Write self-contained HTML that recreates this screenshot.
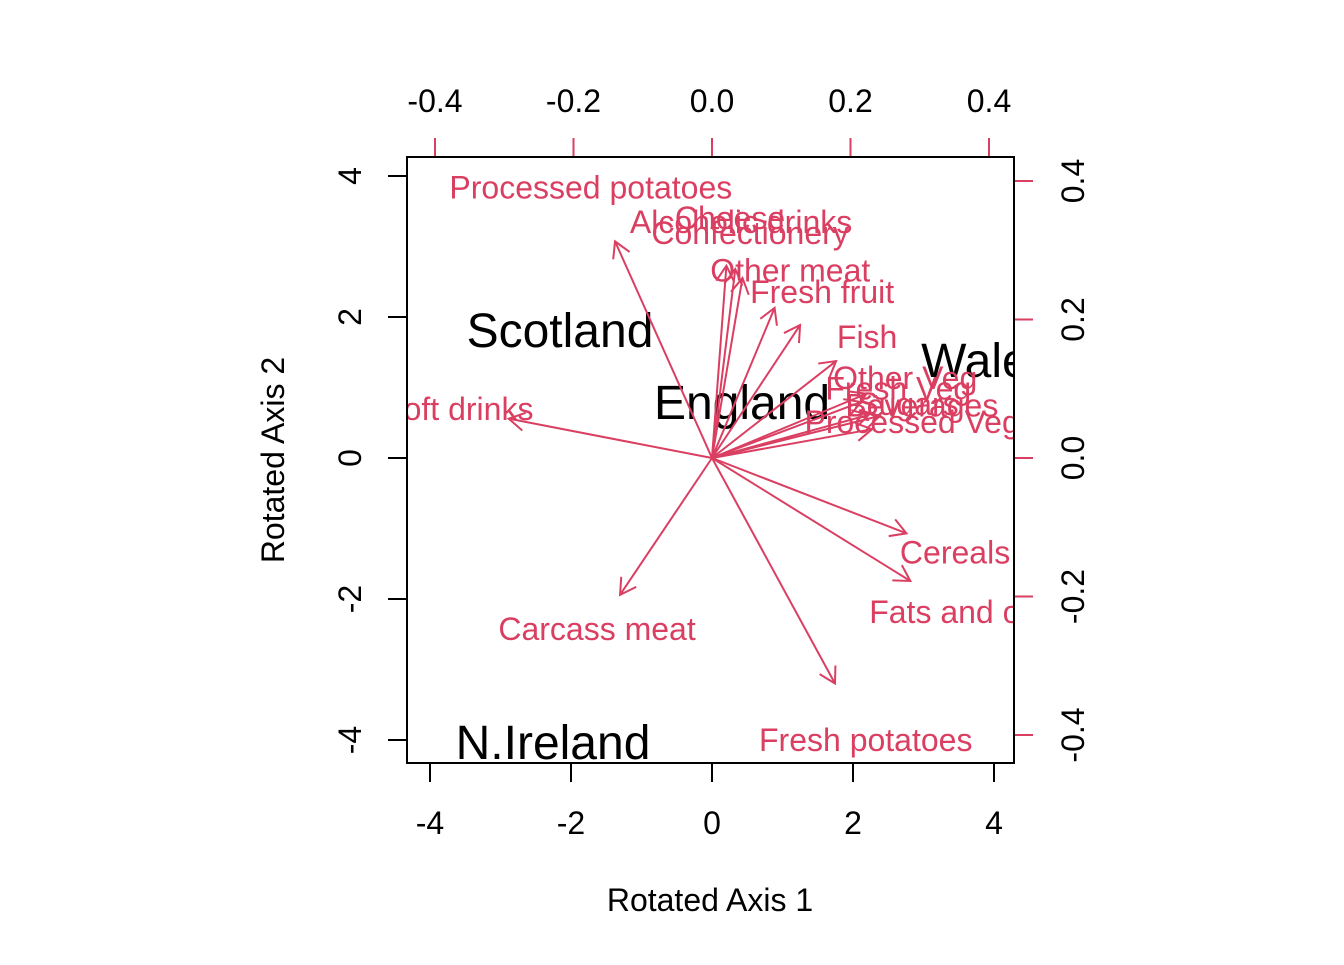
<!DOCTYPE html>
<html><head><meta charset="utf-8"><style>
body{margin:0;background:#fff}
svg text{font-family:"Liberation Sans",Arial,sans-serif}
</style></head><body>
<svg id="chart" width="1344" height="960" xmlns="http://www.w3.org/2000/svg">
<defs><clipPath id="clip"><rect x="407" y="157" width="607" height="606"/></clipPath></defs>
<g id="axes"></g>
<g id="marks" clip-path="url(#clip)"></g>
<rect x="407" y="157" width="607" height="606" fill="none" stroke="#000" stroke-width="2"/>
</svg>
<script>
const countries=["Scotland","England","Wales","N.Ireland"];
const scoreX=[-2.156,0.426,3.90,-2.255];
const scoreY=[1.816,0.794,1.39,-4.03];
const variables=["Processed potatoes","Alcoholic drinks","Cheese","Confectionery","Other meat","Fresh fruit","Fish","Other Veg","Fresh Veg","Sugars","Beverages","Processed Veg","Soft drinks","Cereals","Fats and oils","Carcass meat","Fresh potatoes"];
const loadX=[-0.175,0.042,0.026,0.055,0.113,0.159,0.224,0.279,0.269,0.283,0.303,0.289,-0.367,0.351,0.358,-0.166,0.222];
const loadY=[0.391,0.341,0.347,0.325,0.271,0.240,0.175,0.116,0.101,0.078,0.076,0.052,0.071,-0.136,-0.222,-0.247,-0.407];
const bottomTicks=[-4,-2,0,2,4];
const leftTicks=[-4,-2,0,2,4];
const topTicks=[-0.4,-0.2,0.0,0.2,0.4];
const rightTicks=[-0.4,-0.2,0.0,0.2,0.4];
const NS="http://www.w3.org/2000/svg";
const RED="#DA3F62";
const sx=v=>712+v*70.5, sy=v=>458-v*70.5;
const lx=v=>712+v*692.5, ly=v=>458-v*692.5;
const axes=document.getElementById('axes'), marks=document.getElementById('marks');
function mk(tag,attrs,parent,txt){const e=document.createElementNS(NS,tag);for(const k in attrs)e.setAttribute(k,attrs[k]);if(txt!==undefined)e.textContent=txt;parent.appendChild(e);return e;}
function fmt(v,d){return v.toFixed(d);}
mk('line',{x1:sx(-4),x2:sx(4),y1:763,y2:763,stroke:'#000','stroke-width':2},axes);
bottomTicks.forEach(t=>{
 const l=mk('line',{x1:sx(t),x2:sx(t),y1:763,y2:782,stroke:'#000','stroke-width':2},axes);
 
 
 const tx=mk('text',{x:sx(t),y:834,'font-size':32,'text-anchor':'middle'},axes,String(t));
 
 
});
leftTicks.forEach(t=>{
 const l=mk('line',{x1:388,x2:407,y1:sy(t),y2:sy(t),stroke:'#000','stroke-width':2},axes);
 
 
 const tx=mk('text',{x:0,y:0,'font-size':32,'text-anchor':'middle',transform:`translate(361,${sy(t)}) rotate(-90)`},axes,String(t));
 
 
});
topTicks.forEach(t=>{
 const l=mk('line',{x1:lx(t),x2:lx(t),y1:138,y2:157,stroke:RED,'stroke-width':2},axes);
 
 
 const tx=mk('text',{x:lx(t),y:112,'font-size':32,'text-anchor':'middle'},axes,fmt(t,1));
 
 
});
rightTicks.forEach(t=>{
 const l=mk('line',{x1:1014,x2:1033,y1:ly(t),y2:ly(t),stroke:RED,'stroke-width':2},axes);
 
 
 const tx=mk('text',{x:0,y:0,'font-size':32,'text-anchor':'middle',transform:`translate(1084,${ly(t)}) rotate(-90)`},axes,fmt(t,1));
 
 
});
let t1=mk('text',{x:710,y:911,'font-size':32,'text-anchor':'middle'},axes,'Rotated Axis 1');


let t2=mk('text',{x:0,y:0,'font-size':32,'text-anchor':'middle',transform:'translate(284,460) rotate(-90)'},axes,'Rotated Axis 2');


countries.forEach((c,i)=>{
 const tx=mk('text',{x:sx(scoreX[i]),y:sy(scoreY[i]),dy:'0.35em','font-size':48,'text-anchor':'middle',fill:'#000'},marks,c);
 
 
});
variables.forEach((v,i)=>{
 const x0=712,y0=458,x1=lx(loadX[i]*0.8),y1=ly(loadY[i]*0.8);
 const g=mk('g',{},marks);
 
 
 mk('line',{x1:x0,y1:y0,x2:x1,y2:y1,stroke:RED,'stroke-width':2},g);
 const a=Math.atan2(y1-y0,x1-x0),L=18,h=Math.PI/6;
 const p=`M${x1-L*Math.cos(a-h)},${y1-L*Math.sin(a-h)} L${x1},${y1} L${x1-L*Math.cos(a+h)},${y1-L*Math.sin(a+h)}`;
 mk('path',{d:p,stroke:RED,'stroke-width':2,fill:'none'},g);
 const tx=mk('text',{x:lx(loadX[i]),y:ly(loadY[i]),dy:'0.35em','font-size':32,'text-anchor':'middle',fill:RED},marks,v);
 
 
});
</script>
</body></html>
